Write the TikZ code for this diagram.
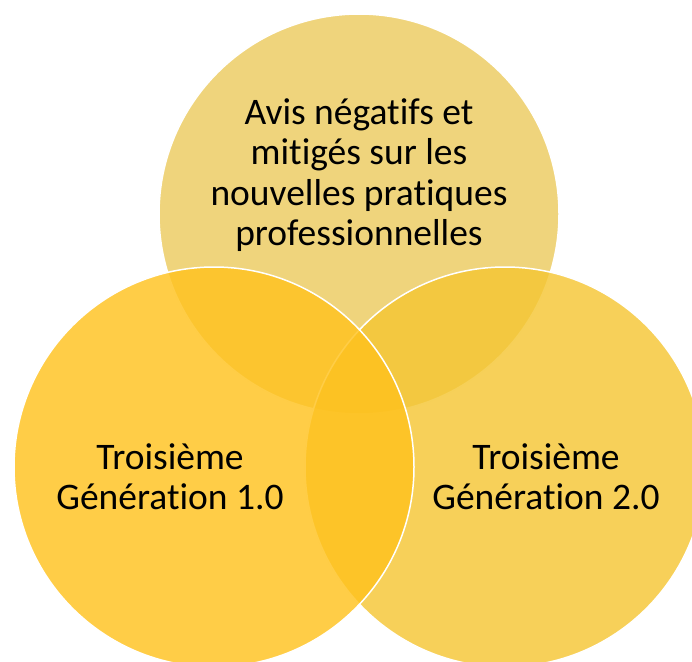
\documentclass[tikz,border=0pt]{standalone}
\usepackage{fontspec}
\setmainfont{Carlito}[Ligatures=NoCommon]
\usepackage{tikz}
\usepackage{xcolor}
\usetikzlibrary{positioning}

\definecolor{topgold}{RGB}{236,203,95}
\definecolor{rightgold}{RGB}{245,198,52}
\definecolor{leftgold}{RGB}{255,194,30}

\begin{document}
\begin{tikzpicture}[x=1pt, y=-1pt, venn/.style={circle, draw=white, line width=1.5pt, minimum size=400pt, inner sep=0pt, fill opacity=0.82}, venntext/.style={align=center, inner sep=0pt, text=black, font=\fontsize{37.5}{40.3}\selectfont}]

        \useasboundingbox (0,0) rectangle (692,661);

        % circles: top first, then right, then left on top
        \node[venn, fill=topgold] (avis) at (359,214) {};
        \node[venn, fill=rightgold] (gen2) at (505,467) {};
        \node[venn, fill=leftgold] (gen1) at (214,467) {};

        \node[venntext] (avistext) at (359,175) {Avis négatifs et\\mitigés sur les\\nouvelles pratiques\\professionnelles};
        \node[venntext] (gen1text) at (170,477) {Troisième\\Génération 1.0};
        \node[venntext] (gen2text) at (546,477) {Troisième\\Génération 2.0};

    \end{tikzpicture}
\end{document}
